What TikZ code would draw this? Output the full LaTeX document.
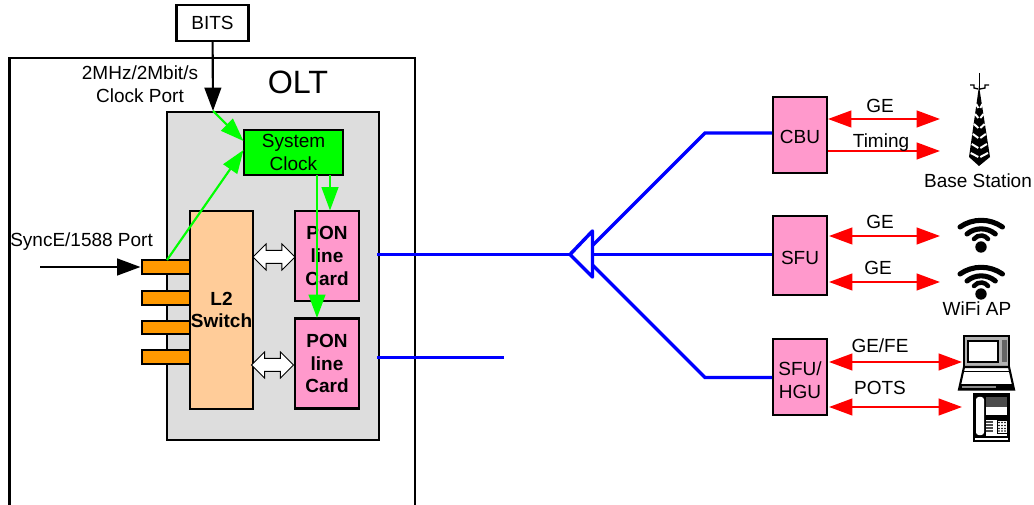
\documentclass[tikz,border=0pt]{standalone}
\usepackage{fontspec}
\setmainfont{Liberation Sans}
\usetikzlibrary{arrows.meta,shapes.arrows}

\definecolor{panelgray}{HTML}{DDDDDD}
\definecolor{cardpink}{HTML}{FF99CC}
\definecolor{switchtan}{HTML}{FFCC99}
\definecolor{portorange}{HTML}{FF9900}

\tikzstyle{label text} = [font=\fontsize{14.25}{17}\selectfont, align=center, inner sep=0pt]
\tikzstyle{box} = [draw, line width=1.6pt, label text, minimum width=41pt, inner sep=0pt]
\tikzstyle{line card} = [box, fill=cardpink, font=\fontsize{14.25}{17}\selectfont\bfseries, minimum width=47.6pt, minimum height=67.5pt]
\tikzstyle{onu} = [box, fill=cardpink]
\tikzstyle{port} = [box, fill=portorange, minimum width=37pt, minimum height=10pt]
\tikzstyle{link} = [line width=1.6pt, -{Triangle[length=17.5pt,width=12.5pt]}]
\tikzstyle{clock link} = [link, green]
\tikzstyle{fiber} = [draw, line width=2.6pt, blue]
\tikzstyle{service} = [draw, line width=1.6pt, red, {Triangle[length=17.5pt,width=12.5pt]}-{Triangle[length=17.5pt,width=12.5pt]}]
\tikzstyle{backplane} = [draw, line width=0.75pt, fill=white, shape=double arrow, double arrow head extend=4.9pt, minimum height=31.5pt, inner xsep=0pt, inner ysep=4.5pt]

\tikzset{
  wifi icon/.pic={
    \fill (0,0) circle[radius=5.7];
    \draw[line width=3.8pt, line cap=round] (-21,-20) arc[start angle=-125, end angle=-55, radius=37];
    \draw[line width=3.8pt, line cap=round] (-14,-13) arc[start angle=-130, end angle=-50, radius=22];
    \draw[line width=3.4pt, line cap=round] (-7,-8) arc[start angle=-143, end angle=-37, radius=8.75];
  }
}

\begin{document}
\begin{tikzpicture}[x=0.75pt, y=-0.75pt]
    \useasboundingbox (0,0) rectangle (1034,505);
    % Draw the OLT frame, open at the bottom
    \draw[line width=1.6pt] (9.5,505) -- (9.5,58) -- (415,58) -- (415,505);
    \node[label text, font=\fontsize{24.2}{28}\selectfont] (olt) at (298,82) {OLT};
    \node[box, fill=panelgray, minimum width=159.4pt, minimum height=246pt] (panel) at (273,276) {};
    \node[box, fill=white, minimum width=54pt, minimum height=27pt] (bits) at (212.5,23) {BITS};
    \node[label text] (clockport) at (140,84) {2MHz/2Mbit/s\\Clock Port};
    \node[label text, anchor=west] (syncport) at (10,242) {SyncE/1588 Port};
    % Then the cards inside the panel
    \node[box, fill=green, minimum width=74.6pt, minimum height=33.75pt] (sysclock) at (293.5,152.5) {System\\Clock};
    \foreach \pos/\name in {{(140.5,267)/portA},{(140.5,298)/portB},{(140.5,327.5)/portC},{(140.5,357)/portD}}
    \node[port, anchor=west] (\name) at \pos {};
    \node[box, fill=switchtan, font=\fontsize{14.25}{17}\selectfont\bfseries, minimum width=47.25pt, minimum height=148.5pt] (switch) at (221.5,310) {L2\\Switch};
    \foreach \pos/\name in {{(327,256)/ponA},{(327,363.5)/ponB}}
    \node[line card] (\name) at \pos {PON\\line\\Card};
    \node[backplane] (busA) at (274,257) {};
    \node[backplane] (busB) at (272.5,365) {};
    % Now the units on the right
    \node[onu, minimum height=57pt] (cbu) at (800,135) {};
    \node[onu, minimum height=59.25pt] (sfu) at (800,255.5) {};
    \node[onu, minimum height=57pt] (hgu) at (800,377) {};
    \node[label text] (cbutext) at (800,137) {CBU};
    \node[label text] (sfutext) at (800,258) {SFU};
    \node[label text] (hgutext) at (800,380) {SFU/\\HGU};
    % Free ends of the connectors
    \foreach \px/\py/\name in {40/267/syncin,213/111/clockin,243.5/141/sysA,243.5/150/sysB,167/260/syncout,
        330/175/clkA,330/210.5/clkB,317/175/clkC,317/318/clkD,
        377/254.5/fibA,377/357.5/fibB,504/357.5/fibC,
        570/254.5/tipS,592.5/231/topS,592.5/277/botS,592.5/254.5/midS,592.5/245.5/upS,592.5/265/dnS,
        705/133/elbA,705/377.5/elbC,772/133/inA,772/254.5/inB,772/377.5/inC,
        828/119/geA,940/119/geB,828/151/tmA,940/151/tmB,
        829/236/gcA,940/236/gcB,829/282/gdA,940/282/gdB,
        829/362/feA,962/362/feB,829/407/poA,962/407/poB}
    \coordinate (\name) at (\px,\py);
    % Connect the clock paths
    \draw[link] (bits) -- (clockin);
    \draw[link] (syncin) -- (portA);
    \foreach \source/ \dest in {clockin/sysA,syncout/sysB,clkA/clkB,clkC/clkD}
    \draw[clock link] (\source) -- (\dest);
    % Fiber tree
    \path[fiber] (fibA) -- (tipS);
    \path[fiber] (fibB) -- (fibC);
    \path[fiber, line join=round] (tipS) -- (topS) -- (botS) -- cycle;
    \path[fiber] (upS) -- (elbA) -- (inA);
    \path[fiber] (midS) -- (inB);
    \path[fiber] (dnS) -- (elbC) -- (inC);
    % Service links
    \foreach \source/ \dest in {geA/geB,gcA/gcB,gdA/gdB,feA/feB,poA/poB}
    \path[service] (\source) -- (\dest);
    \draw[link, red] (tmA) -- (tmB);
    \foreach \pos/\name/\txt in {{(880,106)/lblA/GE},{(881,143)/lblB/Timing},{(880,222)/lblC/GE},{(878,268)/lblD/GE},
        {(880,388)/lblF/POTS},{(978,181)/lblG/Base Station},{(977,309)/lblH/WiFi AP}}
    \node[label text] (\name) at \pos {\txt};
    \node[label text] (lblE) at (880,346) {GE/FE};
    % Base station tower
    \draw[line width=0.75pt] (979,73) -- (979,90);
    \draw[line width=1pt] (970,85) -- (974,85) -- (974,88) -- (978,89);
    \draw[line width=1pt] (989,85) -- (985,85) -- (985,88) -- (980,89);
    \fill (979,86) -- (969,157) -- (979,166) -- (990,157) -- cycle;
    \foreach \y in {108,118,128,138,148,157}
    {
        \draw[white, line width=1.5pt] (978.3,\y) -- ({978.3-(\y-88)*0.11},{\y-4});
        \draw[white, line width=1.5pt] (980.3,\y) -- ({980.3+(\y-88)*0.11},{\y-4});
    }
    % WiFi marks
    \pic at (981,247) {wifi icon};
    \pic at (981,294) {wifi icon};
    % Laptop
    \filldraw[line width=1.3pt, fill=black!30] (964,336) rectangle (1009,367);
    \draw[line width=1.4pt, fill=white] (968,341) rectangle (998,362);
    \fill[black!60] (1002,340) rectangle (1007,362);
    \filldraw[line width=1.6pt, fill=white] (964,367) -- (1009,367) -- (1014,389.5) -- (959,389.5) -- cycle;
    \draw[line width=1pt] (963,371.5) -- (1010,371.5);
    \fill (959,384) rectangle (1014,390);
    \fill[black!45] (962,386) rectangle (996,388);
    % Telephone
    \filldraw[line width=1.4pt, fill=black] (973.5,394) rectangle (1009,441);
    \fill[white, rounded corners=2pt] (976,397) rectangle (984,435);
    \fill[white] (986,407) rectangle (1007,415);
    \fill[black!70] (986,397) rectangle (1007,407);
    \fill[white] (986,419.5) rectangle (1007,436);
    \foreach \y in {421,424,427,430}
    \fill[black!70] (986,\y) rectangle (993,{\y+1.7});
    \draw[line width=0.75pt] (997,420) rectangle (1007,433);
    \foreach \y in {422.5,425.5,428.5,431}
    \foreach \x in {999,1002,1005}
    \fill (\x,\y) circle[radius=0.8];
    \fill[white] (975,438) rectangle (1008,440);
\end{tikzpicture}
\end{document}
